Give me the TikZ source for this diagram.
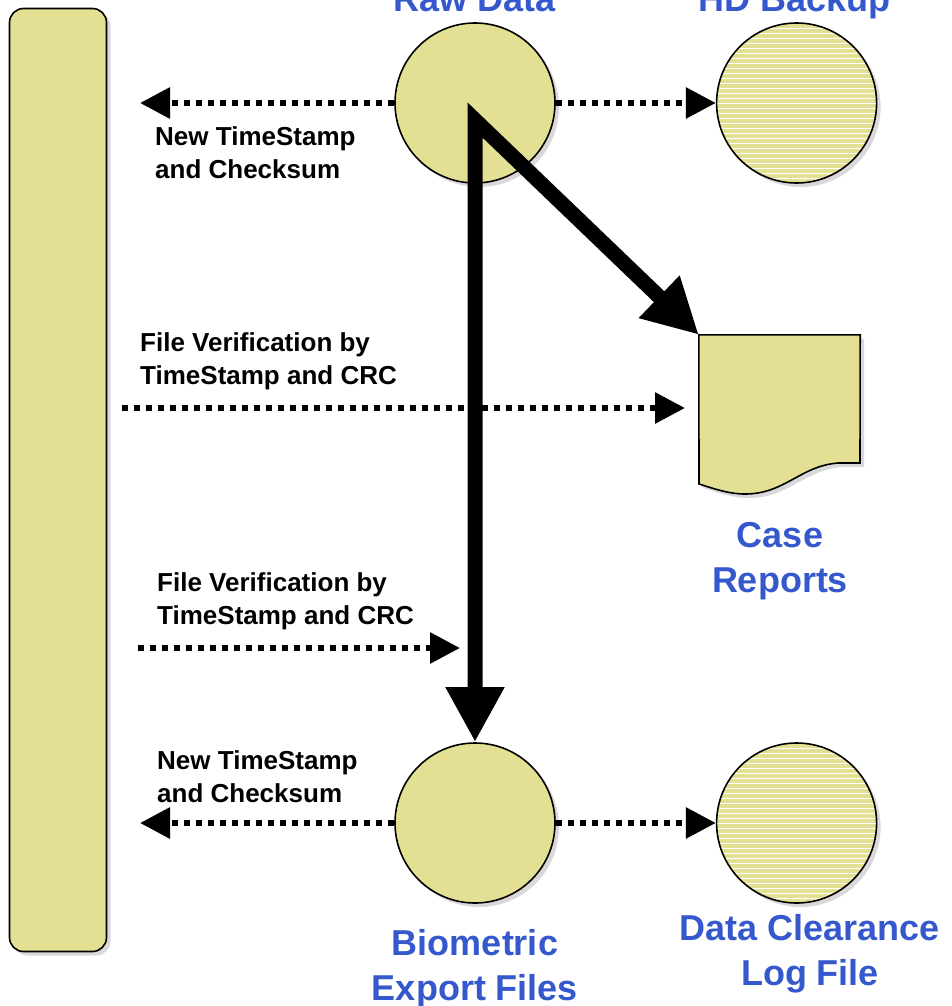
\documentclass[tikz,border=0pt]{standalone}
\usepackage{fontspec}
\setmainfont{Liberation Sans}
\usepackage{xcolor}
\usetikzlibrary{positioning,arrows.meta,shadows}

\definecolor{pale}{HTML}{E4E093}
\definecolor{titleblue}{HTML}{3558CC}

\tikzset{
  shade box/.style={drop shadow={shadow xshift=4pt,shadow yshift=-4pt,fill=black!15,opacity=1}},
  store/.style={circle,draw,fill=pale,line width=1.6pt,minimum size=160pt,inner sep=0pt,shade box},
  backup/.style={path picture={\foreach \k in {-16,...,16}
      \draw[white,line width=0.7pt] ([yshift=\k*5pt]path picture bounding box.west) -- ++(170pt,0);}},
  title/.style={font=\fontsize{36}{45}\selectfont\bfseries,text=titleblue,align=center,inner sep=0pt},
  note/.style={font=\fontsize{26}{33}\selectfont\bfseries,align=left,anchor=west,inner sep=0pt},
  dots/.style={line width=6pt,dash pattern=on 6pt off 6pt,-{Triangle[length=30pt,width=30pt]}},
  bigarrow/.style={line width=15pt,{Triangle[length=55pt,width=55pt]}-{Triangle[length=55pt,width=55pt]}}
}

\begin{document}
\begin{tikzpicture}[x=1pt,y=-1pt]
  \useasboundingbox (0,0) rectangle (951,1006);

  % stores
  \node[draw,fill=pale,line width=1.6pt,rounded corners=14pt,minimum width=97pt,minimum height=943pt,shade box] (bar) at (58,480) {};
  \node[store] (raw) at (475,103) {};
  \node[store,backup,right=160pt of raw] (hd) {};
  \node[store] (bio) at (475,823) {};
  \node[store,backup,right=160pt of bio] (log) {};
  \node[minimum width=161pt,minimum height=160pt,inner sep=0pt] (case) at (779.5,415) {};
  \draw[fill=pale,line width=1.6pt,shade box] (case.north west) -- (case.north east) -- (860,463) -- (838,463)
    .. controls (800,466) and (785,494) .. (745,494) .. controls (728,494) and (712,488) .. (699,484) -- cycle;

  % labels
  \node[title,anchor=base] (rawlbl) at (475,12) {Raw Data};
  \node[title,anchor=base] (hdlbl) at (795,12) {HD Backup};
  \node[title] (caselbl) at (780,561) {Case\\Reports};
  \node[title] (biolbl) at (475,969) {Biometric\\Export Files};
  \node[title] (loglbl) at (810,954) {Data Clearance\\Log File};

  \node[note] (n1) at (155,153) {New TimeStamp\\and Checksum};
  \node[note] (n2) at (140,361) {File Verification by\\TimeStamp and CRC};
  \node[note] (n3) at (157,601) {File Verification by\\TimeStamp and CRC};
  \node[note] (n4) at (157,777) {New TimeStamp\\and Checksum};

  % free ends
  \coordinate (t1) at (140,103);
  \coordinate (s2) at (122,408);
  \coordinate (t2) at (685,408);
  \coordinate (s3) at (138,648);
  \coordinate (t3) at (460,648);
  \coordinate (t4) at (140,823);
  \coordinate (split) at (475,120);

  \draw[dots] (raw.west) -- (t1);
  \draw[dots] (raw.east) -- (hd.west);
  \draw[dots] (s2) -- (t2);
  \draw[dots] (s3) -- (t3);
  \draw[dots] (bio.west) -- (t4);
  \draw[dots] (bio.east) -- (log.west);
  \draw[bigarrow] (bio.north) -- (split) -- (case.north west);
\end{tikzpicture}
\end{document}
